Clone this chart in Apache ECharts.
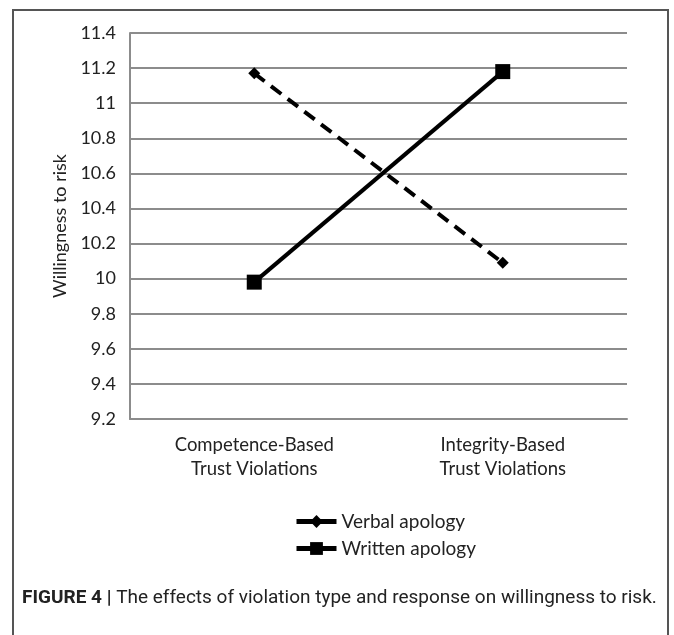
<!DOCTYPE html>
<html>
<head>
<meta charset="utf-8">
<script src="https://cdn.jsdelivr.net/npm/echarts@6/dist/echarts.min.js"></script>
<style>
  html, body { margin: 0; padding: 0; background: #fff; }
  #main { width: 674px; height: 635px; }
</style>
</head>
<body>
<div id="main"></div>
<script>
var categories = ['Competence-Based\nTrust Violations', 'Integrity-Based\nTrust Violations'];
var verbalApology = [11.17, 10.09];
var writtenApology = [9.98, 11.18];
var yMin = 9.2, yMax = 11.4, yStep = 0.2;

var chart = echarts.init(document.getElementById('main'));
var labelFont = 'Lato, "Open Sans", sans-serif';

var option = {
  backgroundColor: '#fff',
  animation: false,
  grid: { left: 130, right: 47, top: 33, bottom: 216, containLabel: false },
  legend: {
    orient: 'vertical',
    left: 289,
    top: 507,
    itemWidth: 40,
    itemHeight: 16,
    itemGap: 8,
    textStyle: { fontFamily: labelFont, fontSize: 19, color: '#222' },
    lineStyle: { width: 5, type: 'solid' },
    data: [
      { name: 'Verbal apology', itemStyle: { color: '#000' }, lineStyle: { width: 5, type: 'solid', color: '#000' } },
      { name: 'Written apology', itemStyle: { color: '#000' }, lineStyle: { width: 5, type: 'solid', color: '#000' } }
    ]
  },
  xAxis: {
    type: 'category',
    data: categories,
    boundaryGap: true,
    axisLine: { lineStyle: { color: '#8c8c8c', width: 2 } },
    axisTick: { show: false },
    axisLabel: { fontFamily: labelFont, fontSize: 18.5, color: '#222', lineHeight: 24, margin: 14 }
  },
  yAxis: {
    type: 'value',
    min: yMin,
    max: yMax,
    interval: yStep,
    name: 'Willingness to risk',
    nameLocation: 'middle',
    nameGap: 60,
    nameTextStyle: { fontFamily: labelFont, fontSize: 18, color: '#222' },
    axisLine: { show: true, lineStyle: { color: '#8c8c8c', width: 2 } },
    axisTick: { show: false },
    splitLine: { lineStyle: { color: '#8c8c8c', width: 2 } },
    axisLabel: {
      fontFamily: labelFont, fontSize: 18, color: '#222', margin: 14,
      formatter: function (v) { return String(Math.round(v * 10) / 10); }
    }
  },
  series: [
    {
      name: 'Verbal apology',
      type: 'line',
      data: verbalApology,
      symbol: 'diamond',
      symbolSize: 12,
      lineStyle: { color: '#000', width: 4, type: [13, 8] },
      itemStyle: { color: '#000' }
    },
    {
      name: 'Written apology',
      type: 'line',
      data: writtenApology,
      symbol: 'rect',
      symbolSize: 15,
      lineStyle: { color: '#000', width: 4 },
      itemStyle: { color: '#000' }
    }
  ],
  graphic: [
    {
      type: 'polyline',
      silent: true,
      shape: { points: [[13, 640], [13, 10], [668, 10], [668, 640]] },
      style: { stroke: '#555', lineWidth: 2, fill: null }
    },
    {
      type: 'text',
      left: 22,
      top: 589,
      style: {
        text: '{b|FIGURE 4 |} The effects of violation type and response on willingness to risk.',
        fill: '#222',
        fontFamily: 'Roboto, sans-serif',
        fontSize: 19,
        rich: {
          b: { fontWeight: 'bold', fontFamily: 'Roboto, sans-serif', fontSize: 19, fill: '#222' }
        }
      }
    }
  ]
};

chart.setOption(option);
</script>
</body>
</html>
